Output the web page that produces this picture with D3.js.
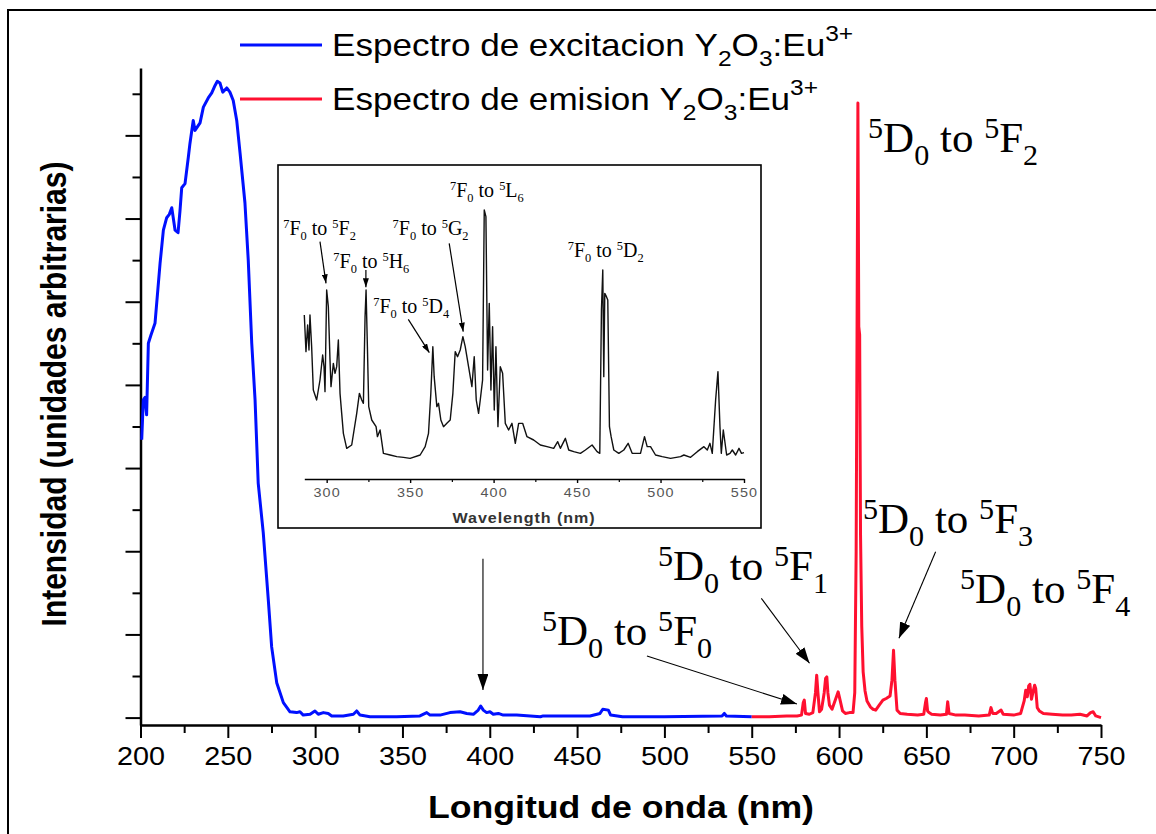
<!DOCTYPE html>
<html>
<head>
<meta charset="utf-8">
<script src="https://cdn.jsdelivr.net/npm/d3@7"></script>
<style>
  html, body { margin: 0; padding: 0; background: #fff; }
  svg { display: block; }
  text { white-space: pre; }
</style>
</head>
<body>
<svg id="chart" width="1156" height="834"></svg>
<script>
// ---- Excitation spectrum of Y2O3:Eu3+ (wavelength nm, intensity a.u.) ----
const excitationNm = [200.7,201.6,202.6,203.5,204.5,206.0,208.3,211.2,213.1,215.0,216.5,217.9,219.8,221.5,222.6,223.6,225.5,227.4,228.3,230.2,231.2,234.1,236.0,238.8,240.8,242.7,244.0,245.5,247.1,249.4,251.2,253.1,255.1,257.0,259.8,261.7,263.7,265.6,267.4,270.3,273.2,275.1,278.0,281.8,285.6,289.4,291.3,293.2,297.1,299.9,301.8,304.7,307.5,309.5,316.1,321.9,323.8,325.7,331.4,346.7,360.0,363.9,365.8,371.5,377.2,383.0,386.8,390.6,393.4,394.8,396.3,398.2,400.1,402.0,404.9,407.7,415.4,429.0,430.6,442.1,457.4,463.1,464.7,467.9,469.2,476.0,500.0,533.0,534.3,535.5,550.0];
const excitationVal = [3.34,3.82,3.85,3.64,4.50,4.60,4.74,5.46,5.86,6.01,6.05,6.13,5.86,5.83,6.09,6.37,6.42,6.74,6.90,7.18,7.06,7.15,7.34,7.45,7.51,7.60,7.65,7.63,7.52,7.57,7.52,7.42,7.18,6.79,6.19,5.50,4.50,3.82,2.82,2.22,1.41,0.85,0.42,0.18,0.07,0.06,0.07,0.03,0.04,0.08,0.04,0.06,0.05,0.02,0.02,0.04,0.08,0.03,0.01,0.01,0.02,0.06,0.03,0.03,0.06,0.07,0.05,0.04,0.09,0.14,0.09,0.06,0.07,0.04,0.05,0.03,0.03,0.01,0.02,0.02,0.02,0.05,0.10,0.09,0.03,0.01,0.01,0.02,0.05,0.02,0.01];

// ---- Emission spectrum of Y2O3:Eu3+ ----
const emissionNm = [550,560,570,576,578.5,579.5,580.1,580.8,583,585,586.5,587.2,587.9,588.8,590,591.5,592.3,593.0,593.6,594.5,596,598,599.5,600.5,602,603.6,606,608.0,609.0,609.8,610.3,610.8,611.3,611.8,612.3,613.0,613.8,614.9,616.0,617.9,619.5,621.0,623.0,625.1,627.0,629.2,630.3,631.2,632.0,633.2,635,639,645,648.5,649.5,650.0,650.7,651.5,653,658,661.5,662.2,663.0,667,672,680,686,687.0,688.0,690,692.8,694,700,704,706,706.9,707.8,708.6,709.3,710.2,711.0,712.0,712.6,713.5,714.7,717,722,728,733,738,742,744,745.5,747,750];
const emissionVal = [0.01,0.01,0.02,0.02,0.03,0.18,0.21,0.05,0.04,0.06,0.30,0.51,0.30,0.07,0.10,0.30,0.47,0.49,0.30,0.15,0.10,0.22,0.31,0.22,0.08,0.05,0.06,0.06,0.30,2.00,4.60,7.39,4.70,4.60,2.20,1.10,0.55,0.32,0.20,0.13,0.10,0.09,0.15,0.21,0.23,0.26,0.45,0.81,0.45,0.09,0.05,0.04,0.03,0.04,0.18,0.23,0.08,0.06,0.04,0.03,0.04,0.19,0.05,0.03,0.03,0.02,0.03,0.12,0.05,0.05,0.09,0.04,0.03,0.05,0.20,0.33,0.25,0.38,0.40,0.22,0.30,0.39,0.35,0.12,0.08,0.05,0.04,0.03,0.03,0.04,0.02,0.06,0.07,0.02,0.00];

// ---- Inset: detail of the excitation spectrum, 287-550 nm ----
const insetNm = [286.6,287.6,288.6,289.4,290.0,291.0,292.0,294.0,296.0,297.6,298.4,299.0,300.0,301.0,302.0,302.6,304.0,305.0,306.0,307.0,308.0,309.0,310.0,312.0,315.0,318.0,319.6,321.0,322.0,323.0,323.6,324.4,325.2,327.0,329.6,330.4,332.0,334.0,338.0,342.0,346.0,350.0,356.0,359.0,361.0,362.4,363.6,364.4,366.0,367.0,368.4,370.0,372.0,374.0,375.6,377.0,378.4,380.0,381.6,383.0,385.0,387.0,388.4,389.6,391.0,392.0,393.4,394.4,395.4,396.4,397.4,398.4,399.4,400.4,401.4,402.6,404.0,405.4,407.0,409.0,411.0,413.0,415.0,417.4,420.0,424.0,428.0,432.0,436.0,438.4,440.0,443.0,445.0,448.0,452.0,455.0,459.0,462.0,463.6,464.6,465.4,466.0,466.6,467.6,468.4,469.4,470.4,472.0,475.0,478.0,480.6,483.0,488.0,490.4,492.0,494.0,497.0,501.0,506.0,512.0,514.0,518.0,522.0,526.0,528.0,529.6,531.0,533.0,534.4,535.6,536.4,537.6,538.4,539.6,541.6,543.0,545.0,547.0,548.5,550.0];
const insetVal = [49.2,38.2,46.2,38.7,49.2,39.7,26.7,23.7,29.7,37.2,33.7,26.2,56.7,51.7,35.7,27.7,34.7,31.7,33.7,41.7,25.7,19.7,13.7,9.2,10.2,19.7,25.7,23.7,22.7,48.7,56.7,39.7,21.7,17.7,15.7,12.7,14.7,7.7,7.2,6.7,6.5,6.2,7.2,9.7,13.7,25.7,39.7,30.7,21.7,22.7,17.7,15.7,16.7,17.7,25.7,38.2,36.7,38.7,42.7,39.7,33.7,27.7,36.7,23.7,19.7,23.7,29.7,80.7,78.7,32.7,52.7,26.7,45.7,20.7,39.7,15.7,33.7,31.7,16.7,14.7,16.7,10.7,16.7,16.7,12.7,11.7,10.2,9.7,9.2,11.2,9.2,12.2,8.7,8.2,7.7,8.7,10.2,8.2,7.7,50.7,62.7,30.7,55.7,54.7,53.7,15.7,12.7,8.7,7.7,8.7,10.7,7.7,7.7,12.7,9.7,9.7,7.2,6.7,6.2,6.7,7.2,6.5,8.2,9.7,8.7,10.7,7.7,23.7,32.2,15.7,7.7,14.7,11.7,7.2,7.7,8.7,7.2,9.2,7.7,7.9];

// ---- Axis ticks ----
const xMajorTicks = [200,250,300,350,400,450,500,550,600,650,700,750];
const xMinorTicks = [225,275,325,375,425,475,525,575,625,675,725];
const yMajorTicks = [0,1,2,3,4,5,6,7];
const yMinorTicks = [0.5,1.5,2.5,3.5,4.5,5.5,6.5,7.5];
const insetMajorTicks = [300,350,400,450,500,550];
const insetMinorTicks = [325,375,425,475,525];

// ---- Text ----
const xTitle = "Longitud de onda (nm)";
const yTitle = "Intensidad (unidades arbitrarias)";
const insetXTitle = "Wavelength (nm)";
const seriesNames = ["Espectro de excitacion", "Espectro de emision"];
const compound = [["Y"],["2","sub"],["O"],["3","sub"],[":Eu"],["3+","sup"]];
// emission transitions 5D0 -> 5FJ
const emissionLevels = ["0","1","2","3","4"];
// excitation transitions 7F0 -> upper level [letter, index]
const excitationLevels = [["F","2"],["H","6"],["D","4"],["G","2"],["L","6"],["D","2"]];

const BLUE = "#0010ff", RED = "#ff1030";
const SX = 1.15; // horizontal stretch applied to sans-serif text

const svg = d3.select("#chart");

// frame
svg.append("path").attr("d","M8,834 V10 H1156").attr("fill","none").attr("stroke","#000").attr("stroke-width",2);

// ---- scales ----
const x = d3.scaleLinear().domain([200,750]).range([140.5,1101]);
const y = d3.scaleLinear().domain([-0.089,7.81]).range([725,68]);

// arrow markers
const defs = svg.append("defs");
function marker(id, w, h) {
  defs.append("marker").attr("id", id).attr("viewBox", `0 0 ${w} ${h}`)
    .attr("markerUnits","userSpaceOnUse").attr("markerWidth", w).attr("markerHeight", h)
    .attr("refX", w).attr("refY", h/2).attr("orient","auto")
    .append("path").attr("d", `M0,0 L${w},${h/2} L0,${h} Z`).attr("fill","#000");
}
marker("bigHead", 16, 11);
marker("smallHead", 9, 6);

// rich text with sub/superscripts
function rich(parent, px, py, parts, o) {
  const t = parent.append("text")
    .attr("transform", `translate(${px},${py}) scale(${o.sx || 1},1)` + (o.rotate ? ` rotate(${o.rotate})` : ""))
    .attr("font-family", o.family).attr("font-size", o.size)
    .attr("font-weight", o.weight || "normal").attr("fill", o.fill || "#000")
    .attr("text-anchor", o.anchor || "start");
  let off = 0;
  parts.forEach(p => {
    let target = 0, fs = o.size;
    if (p[1] === "sup") { target = -o.supShift * o.size; fs = o.size * o.ratio; }
    else if (p[1] === "sub") { target = o.subShift * o.size; fs = o.size * o.ratio; }
    t.append("tspan").attr("dy", target - off).attr("font-size", fs).text(p[0]);
    off = target;
  });
  return t;
}

// ---- axes ----
const axisStyle = g => {
  g.selectAll("path.domain").attr("stroke","#000").attr("stroke-width",2.5);
  g.selectAll(".tick line").attr("stroke","#000").attr("stroke-width",2);
};
svg.append("g").attr("transform","translate(0,725)")
  .call(d3.axisBottom(x).tickValues(xMinorTicks).tickSize(8).tickSizeOuter(0).tickFormat(""))
  .call(axisStyle).call(g => g.select("path.domain").remove());
const xAxis = svg.append("g").attr("transform","translate(0,725)")
  .call(d3.axisBottom(x).tickValues(xMajorTicks).tickSize(13).tickSizeOuter(0).tickPadding(9))
  .call(axisStyle);
xAxis.selectAll(".tick text").attr("font-family","Liberation Sans, Arial, sans-serif")
  .attr("font-size",25).attr("fill","#000").attr("transform",`scale(${SX},1)`);

svg.append("g").attr("transform","translate(140.5,0)")
  .call(d3.axisLeft(y).tickValues(yMinorTicks).tickSize(8).tickSizeOuter(0).tickFormat(""))
  .call(axisStyle).call(g => g.select("path.domain").remove());
svg.append("g").attr("transform","translate(140.5,0)")
  .call(d3.axisLeft(y).tickValues(yMajorTicks).tickSize(15).tickSizeOuter(0).tickFormat(""))
  .call(axisStyle);

// axis titles
rich(svg, 621, 818, [[xTitle]], {family:"Liberation Sans, Arial, sans-serif", size:31, weight:"bold", sx:SX, anchor:"middle"});
rich(svg, 66, 394, [[yTitle]], {family:"Liberation Sans, Arial, sans-serif", size:30, weight:"bold", sx:SX, anchor:"middle", rotate:-90});

// ---- spectra ----
const line = d3.line().x(d => x(d[0])).y(d => y(d[1]));
svg.append("path").datum(d3.zip(excitationNm, excitationVal))
  .attr("d", line).attr("fill","none").attr("stroke",BLUE).attr("stroke-width",3).attr("stroke-linejoin","round");
svg.append("path").datum(d3.zip(emissionNm, emissionVal))
  .attr("d", line).attr("fill","none").attr("stroke",RED).attr("stroke-width",3).attr("stroke-linejoin","round");

// ---- legend ----
const legendFont = {family:"Liberation Sans, Arial, sans-serif", size:30.5, sx:SX, ratio:0.7, supShift:0.5, subShift:0.33};
[[BLUE, 45], [RED, 99]].forEach(([c, ly], i) => {
  svg.append("line").attr("x1",240).attr("x2",322).attr("y1",ly).attr("y2",ly).attr("stroke",c).attr("stroke-width",3);
  rich(svg, 332, ly + 11, [[seriesNames[i] + " "]].concat(compound), legendFont);
});

// ---- emission annotations ----
const serif = {family:"Liberation Serif, Times New Roman, serif", size:43, ratio:0.7, supShift:0.33, subShift:0.3};
const transition = (lo) => [["5","sup"],["D"],["0","sub"],[" to "],["5","sup"],["F"],[lo,"sub"]];
const emissionLabelAt = [[429.9,0.873],[496.3,1.654],[616.6,6.80],[613.7,2.215],[669.3,1.377]];
emissionLevels.forEach((lv, i) => {
  const [nm, v] = emissionLabelAt[i];
  rich(svg, x(nm), y(v), transition(lv), serif);
});
const arrow = (g, sx, sy, tx, ty, head, w) => g.append("line")
  .attr("x1",sx).attr("y1",sy).attr("x2",tx).attr("y2",ty)
  .attr("stroke","#000").attr("stroke-width",w).attr("marker-end",`url(#${head})`);
[[490.0,0.740,575.9,0.163],[555.5,1.434,583.1,0.653],[655.3,1.994,634.3,0.953],[396.1,1.911,396.1,0.332]]
  .forEach(a => arrow(svg, x(a[0]), y(a[1]), x(a[2]), y(a[3]), "bigHead", 1.1));

// ---- inset ----
const inset = svg.append("g");
inset.append("rect").attr("x",278).attr("y",165).attr("width",483).attr("height",363)
  .attr("fill","#fff").attr("stroke","#000").attr("stroke-width",1.6);
const xi = d3.scaleLinear().domain([286.6,550]).range([304.3,744]);
const yi = d3.scaleLinear().domain([0,100]).range([479,145.67]);
inset.append("g").attr("transform","translate(0,479)")
  .call(d3.axisBottom(xi).tickValues(insetMinorTicks).tickSize(3).tickSizeOuter(0).tickFormat(""))
  .call(g => g.select("path.domain").remove())
  .call(g => g.selectAll(".tick line").attr("stroke","#000").attr("stroke-width",1.2));
const ixAxis = inset.append("g").attr("transform","translate(0,479)")
  .call(d3.axisBottom(xi).tickValues(insetMajorTicks).tickSize(4).tickSizeOuter(0).tickPadding(5))
  .call(g => g.select("path.domain").attr("stroke","#000").attr("stroke-width",1.4))
  .call(g => g.selectAll(".tick line").attr("stroke","#000").attr("stroke-width",1.4));
ixAxis.selectAll(".tick text").attr("font-family","Liberation Sans, Arial, sans-serif")
  .attr("font-size",12.5).attr("fill","#555").attr("letter-spacing",1).attr("transform",`scale(${SX},1)`);
rich(inset, 524, 523, [[insetXTitle]], {family:"Liberation Sans, Arial, sans-serif", size:14, weight:"bold", sx:SX, anchor:"middle", fill:"#333"})
  .attr("letter-spacing",0.8);

const lineI = d3.line().x(d => xi(d[0])).y(d => yi(d[1]));
inset.append("path").datum(d3.zip(insetNm, insetVal))
  .attr("d", lineI).attr("fill","none").attr("stroke","#111").attr("stroke-width",1.4).attr("stroke-linejoin","round");

const serifSmall = {family:"Liberation Serif, Times New Roman, serif", size:20, ratio:0.62, supShift:0.35, subShift:0.25};
const exTransition = (L, n) => [["7","sup"],["F"],["0","sub"],[" to "],["5","sup"],[L],[n,"sub"]];
const excitationLabelAt = [[274.0,73.2],[304.0,63.2],[327.9,49.7],[339.5,73.2],[373.9,84.7],[444.4,66.7]];
excitationLevels.forEach(([L, n], i) => {
  const [nm, v] = excitationLabelAt[i];
  rich(inset, xi(nm), yi(v), exTransition(L, n), serifSmall);
});
[[296.0,71.2,299.6,58.7],[323.5,62.7,323.5,57.5],[348.9,47.9,361.5,37.9],[373.4,70.7,381.8,44.2]]
  .forEach(a => arrow(inset, xi(a[0]), yi(a[1]), xi(a[2]), yi(a[3]), "smallHead", 1.2));
</script>
</body>
</html>
